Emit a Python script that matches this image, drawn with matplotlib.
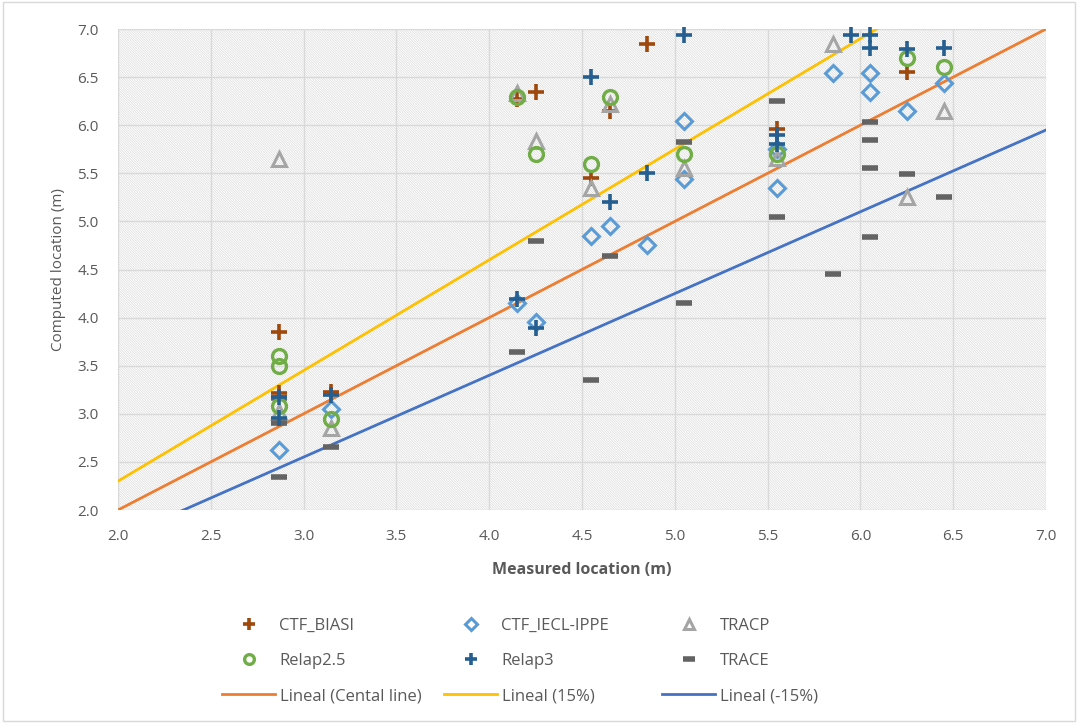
import matplotlib
matplotlib.use("Agg")
import matplotlib.pyplot as plt
from matplotlib.patches import Rectangle

plt.rcParams['font.family'] = ['Open Sans', 'DejaVu Sans']
plt.rcParams['hatch.color'] = '#d3d3d3'
plt.rcParams['hatch.linewidth'] = 0.4

# ---- data (measured x, computed y) ----
biasi_x = [2.87, 2.87, 3.15, 4.15, 4.25, 4.55, 4.65, 4.85, 5.55, 6.25]
biasi_y = [3.85, 3.22, 3.23, 6.27, 6.35, 5.45, 6.15, 6.84, 5.96, 6.55]

iecl_x = [2.87, 3.15, 4.15, 4.25, 4.55, 4.65, 4.85, 5.05, 5.05, 5.55, 5.55, 5.85, 6.05, 6.05, 6.25, 6.45]
iecl_y = [2.62, 3.05, 4.15, 3.95, 4.85, 4.95, 4.75, 6.04, 5.44, 5.35, 5.75, 6.54, 6.54, 6.35, 6.15, 6.44]

tracp_x = [2.87, 2.87, 3.15, 4.15, 4.25, 4.55, 4.65, 5.05, 5.55, 5.85, 6.25, 6.45]
tracp_y = [5.65, 3.02, 2.85, 6.33, 5.84, 5.35, 6.22, 5.55, 5.66, 6.84, 5.25, 6.15]

relap25_x = [2.87, 2.87, 2.87, 3.15, 4.15, 4.25, 4.55, 4.65, 5.05, 5.55, 6.25, 6.45]
relap25_y = [3.60, 3.50, 3.08, 2.95, 6.29, 5.70, 5.60, 6.29, 5.70, 5.70, 6.70, 6.60]

relap3_x = [2.87, 2.87, 3.15, 4.15, 4.25, 4.55, 4.65, 4.85, 5.05, 5.55, 5.55, 5.95, 6.05, 6.05, 6.25, 6.45]
relap3_y = [3.17, 2.96, 3.20, 4.19, 3.89, 6.50, 5.20, 5.50, 6.94, 5.90, 5.80, 6.94, 6.94, 6.80, 6.79, 6.80]

trace_x = [2.87, 2.87, 2.87, 3.15, 4.15, 4.25, 4.55, 4.65, 5.05, 5.05, 5.55, 5.55, 5.85, 6.05, 6.05, 6.05, 6.05, 6.25, 6.45]
trace_y = [2.34, 3.16, 2.90, 2.65, 3.64, 4.80, 3.35, 4.64, 5.83, 4.15, 6.25, 5.05, 4.45, 6.03, 5.85, 5.55, 4.84, 5.49, 5.25]

line_x = [2.0, 7.0]
central_factor = 1.00
plus15_factor = 1.15
minus15_factor = 0.85

x_ticks = [2.0, 2.5, 3.0, 3.5, 4.0, 4.5, 5.0, 5.5, 6.0, 6.5, 7.0]
y_ticks = [2.0, 2.5, 3.0, 3.5, 4.0, 4.5, 5.0, 5.5, 6.0, 6.5, 7.0]

# ---- figure ----
W, H = 1078, 723
fig = plt.figure(figsize=(W / 100, H / 100), dpi=100)
fig.patches.append(Rectangle((0.003, 0.003), 0.994, 0.994, transform=fig.transFigure,
                             fill=False, edgecolor='#d9d9d9', linewidth=1.0))
ax = fig.add_axes([118 / W, 1 - 510 / H, (1046 - 118) / W, (510 - 29) / H])
ax.set_xlim(2.0, 7.0)
ax.set_ylim(2.0, 7.0)

# hatched plot area background
ax.add_patch(Rectangle((0, 0), 1, 1, transform=ax.transAxes, facecolor='white',
                       edgecolor='#d3d3d3', linewidth=0, hatch='\\' * 14, zorder=0))

ax.set_xticks(x_ticks)
ax.set_yticks(y_ticks)
ax.set_xticklabels([f"{v:.1f}" for v in x_ticks])
ax.set_yticklabels([f"{v:.1f}" for v in y_ticks])
ax.grid(True, color='#d9d9d9', linewidth=1.0, zorder=1)
ax.set_axisbelow(True)
for s in ax.spines.values():
    s.set_visible(False)
ax.tick_params(axis='x', length=0, labelsize=11, colors='#595959', pad=14)
ax.tick_params(axis='y', length=0, labelsize=11, colors='#595959', pad=14)

ax.set_xlabel('Measured location (m)', fontsize=11.5, fontweight='bold', color='#595959', labelpad=13)
ax.set_ylabel('Computed location (m)', fontsize=11, color='#595959', labelpad=8)

# trend lines
lw = 2.0
l_c, = ax.plot(line_x, [v * central_factor for v in line_x], color='#ED7D31', lw=lw, zorder=3,
               label='Lineal (Cental line)')
l_p, = ax.plot(line_x, [v * plus15_factor for v in line_x], color='#FFC000', lw=lw, zorder=3,
               label='Lineal (15%)')
l_m, = ax.plot(line_x, [v * minus15_factor for v in line_x], color='#4472C4', lw=lw, zorder=3,
               label='Lineal (-15%)')

s_biasi, = ax.plot(biasi_x, biasi_y, ls='none', marker='+', ms=12, mew=2.6, color='#9E480E',
                   zorder=4, label='CTF_BIASI', clip_on=False)
s_iecl, = ax.plot(iecl_x, iecl_y, ls='none', marker='D', ms=8.5, mew=2.2, mfc='none',
                  color='#5B9BD5', zorder=4, label='CTF_IECL-IPPE', clip_on=False)
s_tracp, = ax.plot(tracp_x, tracp_y, ls='none', marker='^', ms=10, mew=2.2, mfc='none',
                   color='#A5A5A5', zorder=4, label='TRACP', clip_on=False)
s_r25, = ax.plot(relap25_x, relap25_y, ls='none', marker='o', ms=10, mew=2.4, mfc='none',
                 color='#70AD47', zorder=5, label='Relap2.5', clip_on=False)
s_r3, = ax.plot(relap3_x, relap3_y, ls='none', marker='+', ms=12, mew=2.6, color='#255E91',
                zorder=5, label='Relap3', clip_on=False)
s_trace, = ax.plot(trace_x, trace_y, ls='none', marker='_', ms=12, mew=4, color='#636363',
                   zorder=4, label='TRACE', clip_on=False)

# legend: three columns placed on a fixed grid
columns = [[s_biasi, s_r25, l_c], [s_iecl, s_r3, l_p], [s_tracp, s_trace, l_m]]
col_x = [222, 444, 662]
for hs, cx in zip(columns, col_x):
    fig.legend(hs, [h.get_label() for h in hs], loc='upper left',
               bbox_to_anchor=(cx / W, 1 - 618 / H), bbox_transform=fig.transFigure,
               frameon=False, fontsize=12, labelcolor='#595959', handlelength=3.2,
               handletextpad=0.25, labelspacing=1.15, markerscale=0.7,
               borderpad=0, borderaxespad=0)

fig.savefig('out.png', dpi=100)
